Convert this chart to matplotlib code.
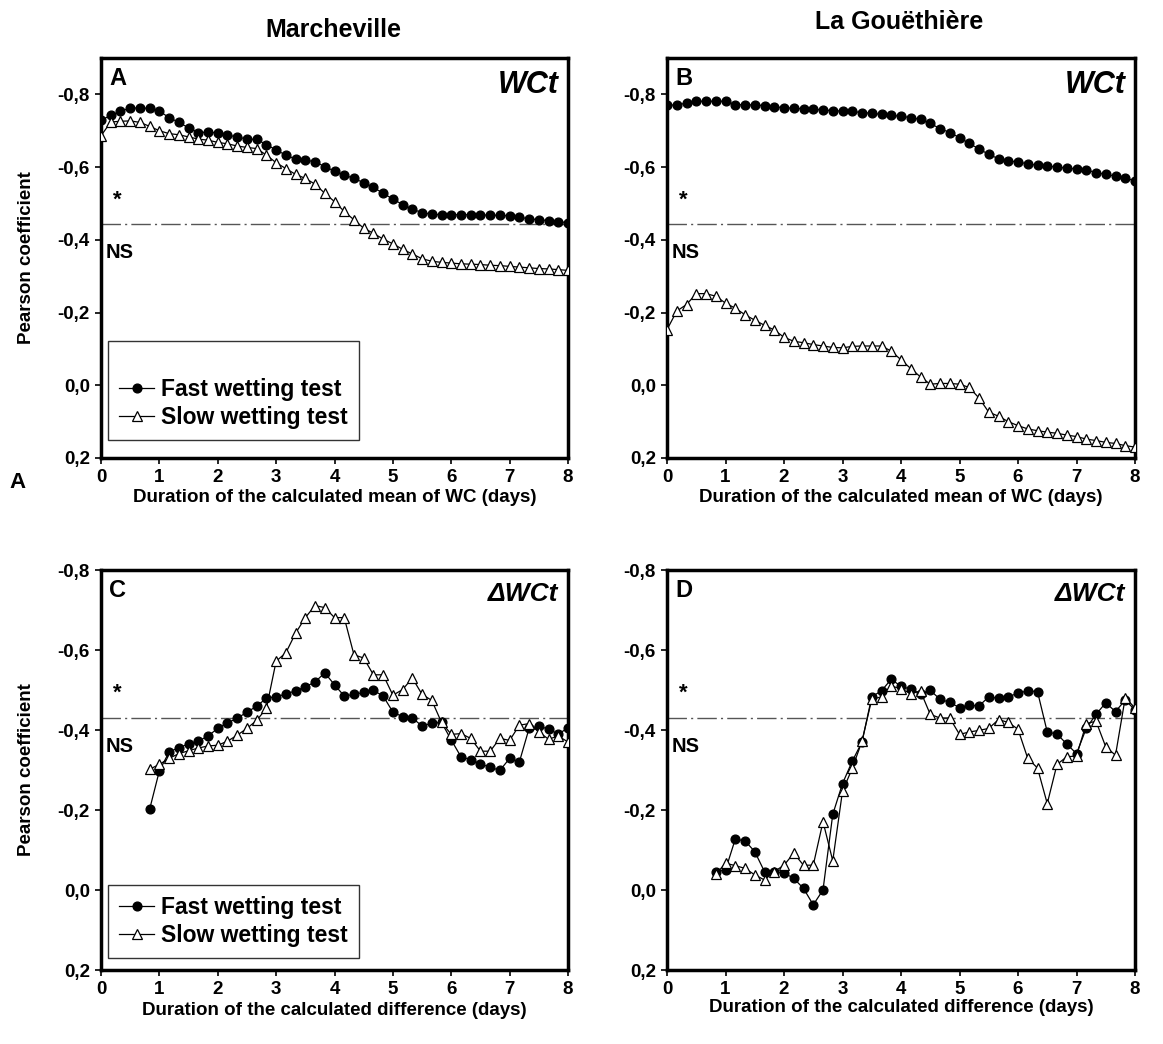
# Pearson coefficients between aggregate stability and water content
# Marcheville vs La Gouethiere, mean of WC and difference of WC

import numpy as np
import matplotlib.pyplot as plt
from matplotlib.ticker import FuncFormatter

plt.rcParams['font.family'] = ['Liberation Sans', 'DejaVu Sans']

# durations in days, one point every 4 hours
days_mean = np.arange(49) / 6
days_diff = np.arange(5, 49) / 6

# Panel A - Marcheville, WCt
fast_a = [-0.729, -0.742, -0.753, -0.763, -0.762, -0.762, -0.754, -0.736, -0.723, -0.708,
          -0.695, -0.696, -0.694, -0.688, -0.683, -0.677, -0.676, -0.662, -0.647, -0.633,
          -0.622, -0.619, -0.615, -0.601, -0.589, -0.578, -0.569, -0.557, -0.544, -0.528,
          -0.512, -0.497, -0.484, -0.475, -0.470, -0.469, -0.469, -0.469, -0.469, -0.468,
          -0.468, -0.467, -0.466, -0.462, -0.458, -0.455, -0.453, -0.450, -0.447]
slow_a = [-0.686, -0.724, -0.726, -0.727, -0.723, -0.712, -0.700, -0.692, -0.689, -0.683,
          -0.677, -0.674, -0.668, -0.664, -0.658, -0.654, -0.651, -0.633, -0.612, -0.596,
          -0.580, -0.569, -0.553, -0.528, -0.505, -0.478, -0.455, -0.432, -0.418, -0.402,
          -0.389, -0.374, -0.361, -0.348, -0.341, -0.338, -0.336, -0.334, -0.333, -0.332,
          -0.330, -0.329, -0.327, -0.325, -0.323, -0.321, -0.320, -0.318, -0.316]

# Panel B - La Gouethiere, WCt
fast_b = [-0.770, -0.771, -0.776, -0.781, -0.781, -0.781, -0.781, -0.772, -0.771, -0.771,
          -0.769, -0.766, -0.763, -0.762, -0.760, -0.759, -0.757, -0.755, -0.754, -0.753,
          -0.750, -0.748, -0.745, -0.742, -0.740, -0.736, -0.731, -0.720, -0.706, -0.695,
          -0.681, -0.665, -0.650, -0.635, -0.623, -0.617, -0.614, -0.609, -0.605, -0.603,
          -0.600, -0.597, -0.595, -0.592, -0.585, -0.580, -0.575, -0.569, -0.563]
slow_b = [-0.153, -0.204, -0.222, -0.252, -0.252, -0.245, -0.226, -0.212, -0.194, -0.179,
          -0.165, -0.152, -0.132, -0.121, -0.117, -0.112, -0.108, -0.104, -0.103, -0.107,
          -0.108, -0.108, -0.108, -0.094, -0.070, -0.046, -0.023, -0.003, -0.005, -0.005,
          -0.003, 0.006, 0.035, 0.074, 0.085, 0.100, 0.111, 0.120, 0.125, 0.129,
          0.132, 0.137, 0.141, 0.148, 0.152, 0.157, 0.160, 0.166, 0.170]

# Panel C - Marcheville, delta WCt
fast_c = [-0.202, -0.298, -0.345, -0.356, -0.365, -0.372, -0.385, -0.404, -0.418, -0.429,
          -0.445, -0.459, -0.480, -0.483, -0.490, -0.498, -0.508, -0.520, -0.543, -0.513,
          -0.485, -0.489, -0.494, -0.499, -0.485, -0.445, -0.433, -0.430, -0.410, -0.417,
          -0.419, -0.375, -0.333, -0.326, -0.315, -0.307, -0.299, -0.329, -0.320, -0.404,
          -0.410, -0.402, -0.390, -0.405]
slow_c = [-0.302, -0.314, -0.329, -0.341, -0.348, -0.355, -0.360, -0.362, -0.372, -0.387,
          -0.404, -0.424, -0.454, -0.572, -0.593, -0.642, -0.681, -0.711, -0.706, -0.681,
          -0.681, -0.588, -0.580, -0.538, -0.538, -0.487, -0.501, -0.530, -0.489, -0.474,
          -0.419, -0.389, -0.391, -0.379, -0.347, -0.347, -0.379, -0.374, -0.412, -0.416,
          -0.395, -0.377, -0.385, -0.370]

# Panel D - La Gouethiere, delta WCt
fast_d = [-0.046, -0.050, -0.127, -0.123, -0.096, -0.046, -0.046, -0.043, -0.029, -0.004,
          0.037, 0.000, -0.189, -0.266, -0.322, -0.370, -0.483, -0.498, -0.527, -0.509,
          -0.502, -0.491, -0.499, -0.477, -0.469, -0.456, -0.462, -0.460, -0.483, -0.479,
          -0.483, -0.492, -0.498, -0.496, -0.395, -0.390, -0.365, -0.341, -0.404, -0.439,
          -0.468, -0.446, -0.475, -0.450]
slow_d = [-0.039, -0.067, -0.061, -0.054, -0.038, -0.025, -0.046, -0.062, -0.092, -0.062,
          -0.062, -0.171, -0.073, -0.247, -0.304, -0.372, -0.477, -0.483, -0.510, -0.503,
          -0.491, -0.497, -0.439, -0.430, -0.430, -0.389, -0.395, -0.399, -0.404, -0.426,
          -0.419, -0.402, -0.329, -0.305, -0.216, -0.314, -0.333, -0.335, -0.416, -0.422,
          -0.358, -0.337, -0.481, -0.455]

# significance thresholds (p = 0.05)
sig_mean = -0.444
sig_diff = -0.43

y_ticks = [-0.8, -0.6, -0.4, -0.2, 0.0, 0.2]


def comma_fmt(v, pos):
    return f'{v:.1f}'.replace('.', ',').replace('-0,0', '0,0')


def draw_panel(ax, x, fast, slow, letter, tag, tag_size, sig, ytop, ns_gap, legend=None):
    ax.plot(x, fast, '-o', color='black', lw=0.9, markersize=6.3,
            label='Fast wetting test', zorder=3)
    ax.plot(x, slow, '-^', color='black', mfc='white', mec='black', mew=0.9,
            lw=0.9, markersize=7.8, label='Slow wetting test', zorder=3)
    ax.axhline(sig, color='#555555', lw=1.0, linestyle=(0, (14, 3, 1.5, 3)), zorder=1)

    ax.set_xlim(0, 8)
    ax.set_ylim(0.2, ytop)
    ax.set_xticks(range(9))
    ax.set_yticks(y_ticks)
    ax.yaxis.set_major_formatter(FuncFormatter(comma_fmt))
    ax.tick_params(direction='out', length=4, width=1.2, labelsize=13.5, pad=4)
    for lab in ax.get_xticklabels() + ax.get_yticklabels():
        lab.set_fontweight('bold')
    for sp in ax.spines.values():
        sp.set_linewidth(2.5)

    ax.text(0.018, 0.978, letter, transform=ax.transAxes, fontsize=17,
            fontweight='bold', va='top', ha='left')
    ax.text(0.98, 0.97, tag, transform=ax.transAxes, fontsize=tag_size,
            fontweight='bold', fontstyle='italic', va='top', ha='right')
    ax.text(0.28, sig - 0.035, '*', fontsize=16, fontweight='bold',
            ha='center', va='bottom')
    ax.text(0.08, sig + ns_gap, 'NS', fontsize=14.5, fontweight='bold',
            ha='left', va='center')

    if legend is not None:
        # legend = (bottom anchor, blank title size)
        anchor, blank = legend
        leg = ax.legend(loc='lower left', bbox_to_anchor=(0.015, anchor),
                        prop={'weight': 'bold', 'size': 16.5}, frameon=True,
                        fancybox=False, edgecolor='black', borderpad=0.5,
                        handlelength=1.5, handletextpad=0.3, labelspacing=0.2,
                        borderaxespad=0, title=' ' if blank else None,
                        title_fontsize=blank if blank else None)
        leg.get_frame().set_linewidth(1.0)


def main():
    fig = plt.figure(figsize=(11.63, 10.44), dpi=100)
    W, H = 1163, 1044

    def box(left, top, right, bottom):
        return [left / W, 1 - bottom / H, (right - left) / W, (bottom - top) / H]

    ax_a = fig.add_axes(box(101, 58, 568, 458))
    ax_b = fig.add_axes(box(667, 58, 1135, 458))
    ax_c = fig.add_axes(box(101, 570, 568, 970))
    ax_d = fig.add_axes(box(667, 570, 1135, 970))

    draw_panel(ax_a, days_mean, fast_a, slow_a, 'A', 'WCt', 22, sig_mean, -0.9, 0.08,
               legend=(0.045, 16))
    draw_panel(ax_b, days_mean, fast_b, slow_b, 'B', 'WCt', 22, sig_mean, -0.9, 0.08)
    draw_panel(ax_c, days_diff, fast_c, slow_c, 'C', '\u0394WCt', 19, sig_diff, -0.8, 0.07,
               legend=(0.03, 0))
    draw_panel(ax_d, days_diff, fast_d, slow_d, 'D', '\u0394WCt', 19, sig_diff, -0.8, 0.07)

    lab = dict(fontsize=13.5, fontweight='bold')
    ax_a.set_xlabel('Duration of the calculated mean of WC (days)', labelpad=2, **lab)
    ax_b.set_xlabel('Duration of the calculated mean of WC (days)', labelpad=2, **lab)
    ax_c.set_xlabel('Duration of the calculated difference (days)', labelpad=3, **lab)
    ax_d.set_xlabel('Duration of the calculated difference (days)', labelpad=1, **lab)
    ax_a.set_ylabel('Pearson coefficient', labelpad=16, **lab)
    ax_c.set_ylabel('Pearson coefficient', labelpad=16, **lab)

    fig.text(333 / W, 1 - 30 / H, 'Marcheville', fontsize=18, fontweight='bold',
             ha='center', va='center')
    fig.text(899 / W, 1 - 22 / H, 'La Gou\u00ebthi\u00e8re', fontsize=18,
             fontweight='bold', ha='center', va='center')
    fig.text(17 / W, 1 - 482 / H, 'A', fontsize=16, fontweight='bold',
             ha='center', va='center')

    fig.savefig('out.png', dpi=100)


if __name__ == "__main__":
    main()
